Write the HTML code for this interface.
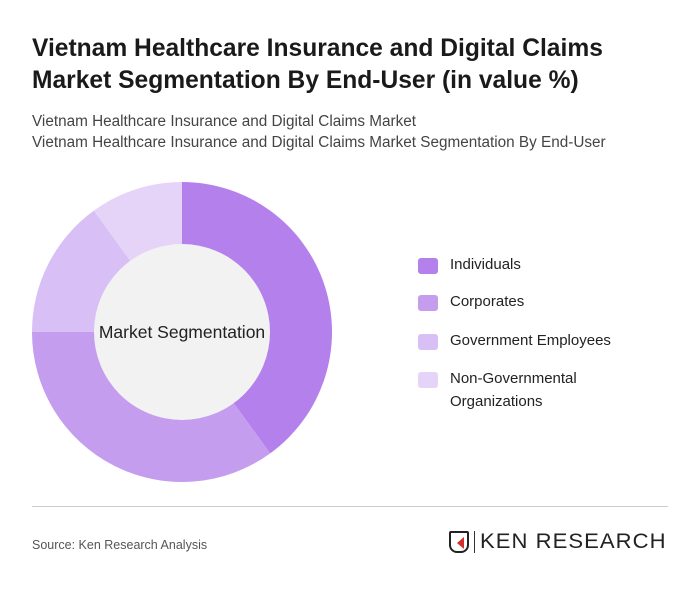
<!DOCTYPE html>
<html><head><meta charset="utf-8"><style>
body{margin:0;width:700px;height:591px;background:#fff;font-family:"Liberation Sans",sans-serif;overflow:hidden;position:relative}
.t{position:absolute;left:32px;top:33px;font-size:24.6px;font-weight:bold;color:#1a1a1a;line-height:32px;width:600px}
.s{position:absolute;left:32px;font-size:15.3px;color:#444;white-space:nowrap}
.leg{position:absolute;left:418px;font-size:15px;color:#222}
.sw{position:absolute;left:0;width:20px;height:16px;border-radius:3px}
.lt{position:absolute;left:32px;line-height:23px;white-space:nowrap}
</style></head><body>
<div class="t">Vietnam Healthcare Insurance and Digital Claims Market Segmentation By End-User (in value %)</div>
<div class="s" style="top:113px">Vietnam Healthcare Insurance and Digital Claims Market</div>
<div class="s" style="top:134px">Vietnam Healthcare Insurance and Digital Claims Market Segmentation By End-User</div>
<svg id="ch" width="700" height="591" style="position:absolute;left:0;top:0"></svg>
<div id="legend"></div>
<div style="position:absolute;left:32px;top:506px;width:636px;height:1px;background:#ccc"></div>
<div style="position:absolute;left:32px;top:538px;font-size:12.5px;color:#555">Source: Ken Research Analysis</div>
<div style="position:absolute;left:449px;top:531px;width:20px;height:22px;border:2px solid #222;border-radius:2px 2px 8px 8px;box-sizing:border-box"><div style="position:absolute;left:6px;top:4px;width:0;height:0;border-top:6px solid transparent;border-bottom:6px solid transparent;border-right:7px solid #d62d2d"></div></div>
<div style="position:absolute;left:474px;top:531px;width:1px;height:22px;background:#333"></div>
<div style="position:absolute;left:480px;top:530px;font-size:21px;letter-spacing:1px;color:#222;transform:scaleX(1.05);transform-origin:left top;white-space:nowrap">KEN RESEARCH</div>
<script>
const categories=["Individuals","Corporates","Government Employees","Non-Governmental Organizations"];
const values=[40,35,15,10];
const colors=["#b380ec","#c59def","#d8bff5","#e5d4f8"];
const svg=document.getElementById('ch');const NS="http://www.w3.org/2000/svg";
const cx=182,cy=332,R=150,r=88;
const total=values.reduce((a,b)=>a+b,0);
let a0=0;
function pt(a,rad){return [cx+rad*Math.sin(a),cy-rad*Math.cos(a)];}
values.forEach((v,i)=>{
 const a1=a0+v/total*2*Math.PI;
 const [x1,y1]=pt(a0,R),[x2,y2]=pt(a1,R);
 const large=(a1-a0)>Math.PI?1:0;
 const p=document.createElementNS(NS,'path');
 p.setAttribute('d',`M${cx},${cy} L${x1},${y1} A${R},${R} 0 ${large} 1 ${x2},${y2} Z`);
 p.setAttribute('fill',colors[i]);
 
 
 svg.appendChild(p);a0=a1;
});
const c=document.createElementNS(NS,'circle');
c.setAttribute('cx',cx);c.setAttribute('cy',cy);c.setAttribute('r',r);c.setAttribute('fill','#f2f2f2');


svg.appendChild(c);
const t=document.createElementNS(NS,'text');
t.setAttribute('x',cx);t.setAttribute('y',cy+6);t.setAttribute('text-anchor','middle');
t.setAttribute('font-size','17.5');t.setAttribute('fill','#222');t.setAttribute('font-family','Liberation Sans, sans-serif');
t.textContent='Market Segmentation';


svg.appendChild(t);
const lg=document.getElementById('legend');
const tops=[257,294,333,371];
const labels=["Individuals","Corporates","Government Employees","Non-Governmental<br>Organizations"];
categories.forEach((cat,i)=>{
 const d=document.createElement('div');d.className='leg';d.style.top=tops[i]+'px';
 
 
 d.innerHTML=`<div class="sw" style="top:1px;background:${colors[i]}"></div><div class="lt" style="top:-4px">${labels[i]}</div>`;
 lg.appendChild(d);
});
</script>
</body></html>
